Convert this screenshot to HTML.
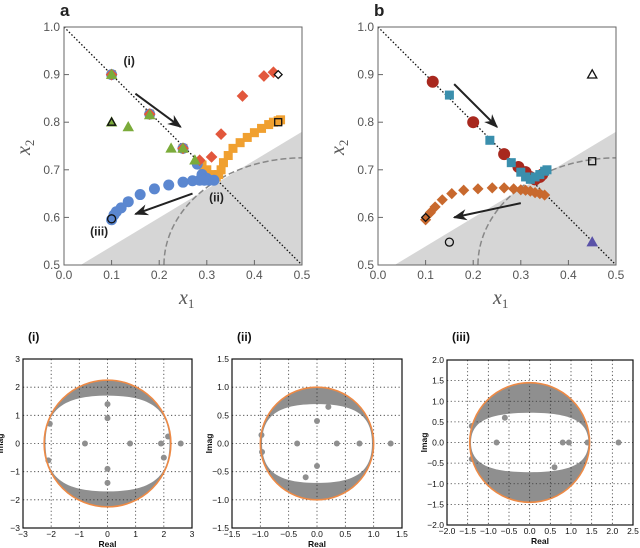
<!DOCTYPE html>
<html><head><meta charset="utf-8"><style>
body{margin:0;background:#fff}
svg{display:block;font-family:"Liberation Sans",sans-serif}
</style></head><body>
<svg id="s" width="640" height="548" viewBox="0 0 640 548">
<defs>
<marker id="ah" viewBox="0 0 10 10" refX="9" refY="5" markerWidth="7" markerHeight="7" orient="auto"><path d="M0,1 L10,5 L0,9 L3,5 z" fill="#222"/></marker>
<clipPath id="ca"><rect x="64" y="27" width="238" height="238"/></clipPath>
<clipPath id="cb"><rect x="378" y="27" width="238" height="238"/></clipPath>
</defs>
</svg>
<script>
// ---------- data ----------
const aBlue=[[0.1,0.9],[0.18,0.817],[0.25,0.745],[0.28,0.712],[0.29,0.69],[0.3,0.682],[0.1,0.595],[0.105,0.605],[0.11,0.612],[0.12,0.62],[0.135,0.633],[0.16,0.648],[0.19,0.66],[0.22,0.668],[0.25,0.674],[0.27,0.677],[0.285,0.678],[0.295,0.678],[0.305,0.678],[0.315,0.678]];
const aOrange=[[0.1,0.9],[0.18,0.817],[0.25,0.745],[0.29,0.71],[0.3,0.7],[0.31,0.69],[0.32,0.685],[0.325,0.69],[0.33,0.7],[0.335,0.715],[0.345,0.73],[0.355,0.745],[0.37,0.757],[0.385,0.768],[0.4,0.778],[0.415,0.787],[0.43,0.795],[0.44,0.8],[0.45,0.803],[0.455,0.805]];
const aRed=[[0.1,0.9],[0.18,0.817],[0.25,0.745],[0.285,0.72],[0.31,0.727],[0.33,0.775],[0.375,0.855],[0.42,0.897],[0.44,0.905]];
const aGreen=[[0.1,0.9],[0.1,0.8],[0.135,0.79],[0.18,0.815],[0.225,0.745],[0.25,0.745],[0.275,0.72]];
const bRed=[[0.115,0.885],[0.2,0.8],[0.265,0.733],[0.295,0.706],[0.31,0.695],[0.32,0.685],[0.33,0.68],[0.34,0.685],[0.345,0.69]];
const bTeal=[[0.15,0.857],[0.235,0.762],[0.28,0.715],[0.3,0.695],[0.31,0.685],[0.32,0.68],[0.33,0.685],[0.34,0.69],[0.35,0.697],[0.355,0.7]];
const bBrown=[[0.1,0.595],[0.11,0.61],[0.12,0.622],[0.135,0.637],[0.155,0.65],[0.18,0.657],[0.21,0.66],[0.24,0.662],[0.265,0.662],[0.285,0.66],[0.3,0.658],[0.31,0.657],[0.32,0.655],[0.33,0.652],[0.34,0.65],[0.35,0.647]];
const topTicksX=[0.0,0.1,0.2,0.3,0.4,0.5];
const topTicksY=[0.5,0.6,0.7,0.8,0.9,1.0];
const eigI={r:2.25,irx:2.2,iry:1.7,pts:[[-0.8,0],[0.8,0],[1.9,0],[2.6,0],[0,0.9],[0,1.4],[0,-0.9],[0,-1.4],[2.15,0.25],[-2.1,-0.6],[-2.05,0.7],[2.0,-0.5]]};
const eigII={r:1.0,irx:0.97,iry:0.7,pts:[[-0.35,0],[0.35,0],[0.75,0],[1.3,0],[0,0.4],[0,-0.4],[-0.98,0.15],[-0.97,-0.15],[0.2,0.65],[-0.2,-0.6]]};
const eigIII={r:1.45,irx:1.42,iry:0.72,pts:[[-0.8,0],[0.8,0],[0.95,0],[1.4,0],[2.15,0],[0.6,-0.6],[-0.6,0.6],[-1.4,0.4],[-1.4,-0.4]]};

const S=document.getElementById('s');const NS='http://www.w3.org/2000/svg';
function E(t,a,p){const e=document.createElementNS(NS,t);for(const k in a)e.setAttribute(k,a[k]);(p||S).appendChild(e);return e;}
function T(x,y,s,a,p){const e=E('text',Object.assign({x:x,y:y},a),p);e.textContent=s;return e;}

function topPanel(x0,letter,cid){
  const X=v=>x0+v*476, Y=v=>265-(v-0.5)*476;
  const g=E('g',{});
  
  
  T(x0-4,16,letter,{'font-size':17,'font-weight':'bold',fill:'#222'},g);
  const cg=E('g',{'clip-path':'url(#'+cid+')'},g);
  const sh=E('polygon',{points:`${X(0.035)},${Y(0.5)} ${X(0.5)},${Y(0.78)} ${X(0.5)},${Y(0.5)}`,fill:'#d6d6d6'},cg);
  
  
  const arc=E('ellipse',{cx:X(0.5),cy:Y(0.5),rx:0.29*476,ry:0.225*476,fill:'none',stroke:'#888','stroke-width':1.5,'stroke-dasharray':'6,3'},cg);
  
  
  const dl=E('line',{x1:X(0),y1:Y(1),x2:X(0.5),y2:Y(0.5),stroke:'#111','stroke-width':1.3,'stroke-dasharray':'1.5,2'},cg);
  
  
  const fr=E('rect',{x:x0,y:27,width:238,height:238,fill:'none',stroke:'#666','stroke-width':1},g);
  
  
  topTicksX.forEach(v=>{E('line',{x1:X(v),y1:265,x2:X(v),y2:260,stroke:'#666'},g);
    const t=T(X(v),279,v.toFixed(1),{'font-size':12,'text-anchor':'middle',fill:'#555'},g);
    });
  topTicksY.forEach(v=>{E('line',{x1:x0,y1:Y(v),x2:x0+5,y2:Y(v),stroke:'#666'},g);
    const t=T(x0-4,Y(v)+4,v.toFixed(1),{'font-size':12,'text-anchor':'end',fill:'#555'},g);
    });
  const xl=T(x0+115,304,'x',{'font-size':20,'font-style':'italic','font-family':'Liberation Serif,serif',fill:'#555'},g);
  E('tspan',{dy:4,'font-size':13,'font-style':'normal'},xl).textContent='1';
  
  const yl=T(0,0,'x',{'font-size':20,'font-style':'italic','font-family':'Liberation Serif,serif',fill:'#555',transform:`translate(${x0-34},${155}) rotate(-90)`},g);
  E('tspan',{dy:4,'font-size':13,'font-style':'normal'},yl).textContent='2';
  
  return {g,cg,X,Y};
}
function mark(p,shape,x,y,size,fill,stroke,name){
  let e;
  if(shape==='c')e=E('circle',{cx:x,cy:y,r:size,fill:fill,stroke:stroke||'none','stroke-width':1.3},p);
  else if(shape==='s')e=E('rect',{x:x-size,y:y-size,width:2*size,height:2*size,fill:fill,stroke:stroke||'none','stroke-width':1.3},p);
  else if(shape==='d')e=E('polygon',{points:`${x},${y-size*1.3} ${x+size*1.3},${y} ${x},${y+size*1.3} ${x-size*1.3},${y}`,fill:fill,stroke:stroke||'none','stroke-width':1.3},p);
  else e=E('polygon',{points:`${x},${y-size*1.2} ${x+size*1.15},${y+size*0.85} ${x-size*1.15},${y+size*0.85}`,fill:fill,stroke:stroke||'none','stroke-width':1.3},p);
  
  
}
function series(P,arr,shape,size,col,name){arr.forEach(d=>mark(P.cg,shape,P.X(d[0]),P.Y(d[1]),size,col,null,name));}
function arrow(P,a,b,c,d){const l=E('line',{x1:P.X(a),y1:P.Y(b),x2:P.X(c),y2:P.Y(d),stroke:'#222','stroke-width':2,'marker-end':'url(#ah)'},P.g);
  }
function lab(P,x,y,s){const t=T(P.X(x),P.Y(y),s,{'font-size':12,'font-weight':'bold',fill:'#222'},P.g);
  }

const A=topPanel(64,'a','ca');
series(A,aOrange,'s',4.5,'#f0a030','orange-square');
series(A,aBlue,'c',5.5,'#5b87d0','blue-circle');
series(A,aRed,'d',4.5,'#e2573c','red-diamond');
series(A,aGreen,'t',5,'#7bab3a','green-triangle');
mark(A.cg,'d',A.X(0.45),A.Y(0.9),3,'#fff','#111','open-diamond');
mark(A.cg,'s',A.X(0.45),A.Y(0.8),3.5,'none','#111','open-square');
mark(A.cg,'t',A.X(0.1),A.Y(0.8),3.5,'none','#111','open-triangle');
mark(A.cg,'c',A.X(0.1),A.Y(0.597),4,'none','#111','open-circle');
arrow(A,0.15,0.86,0.245,0.79);arrow(A,0.27,0.65,0.15,0.607);
lab(A,0.125,0.92,'(i)');lab(A,0.305,0.633,'(ii)');lab(A,0.055,0.562,'(iii)');

const B=topPanel(378,'b','cb');
series(B,bBrown,'d',4.3,'#c8692e','brown-diamond');
series(B,bRed,'c',6,'#a8281e','red-circle');
series(B,bTeal,'s',4.5,'#3a8fad','teal-square');
mark(B.cg,'t',B.X(0.45),B.Y(0.9),4,'none','#111','open-triangle');
mark(B.cg,'s',B.X(0.45),B.Y(0.718),3.5,'none','#111','open-square');
mark(B.cg,'d',B.X(0.1),B.Y(0.6),3,'none','#111','open-diamond');
mark(B.cg,'c',B.X(0.15),B.Y(0.548),4,'none','#111','open-circle');
mark(B.cg,'t',B.X(0.45),B.Y(0.548),5,'#5a52a8',null,'blue-triangle');
arrow(B,0.16,0.88,0.25,0.79);arrow(B,0.3,0.63,0.16,0.6);

function eig(x0,x1,y0,y1,xmin,xmax,ymin,ymax,xt,yt,label,d,name){
  const X=v=>x0+(v-xmin)/(xmax-xmin)*(x1-x0), Y=v=>y1-(v-ymin)/(ymax-ymin)*(y1-y0);
  const g=E('g',{});
  
  T(x0+5,341,label,{'font-size':12,'font-weight':'bold',fill:'#111'},g);
  const cx=X(0),cy=Y(0),rx=X(d.r)-cx,ry=cy-Y(d.r),irx=X(d.irx)-cx,iry=cy-Y(d.iry);
  const band=E('ellipse',{cx:cx,cy:cy,rx:rx,ry:ry,fill:'#8f8f8f'},g);
  
  const k=0.7,m=0.72;
  const inner=`M${cx-irx},${cy}C${cx-irx},${cy-iry*k} ${cx-irx*m},${cy-iry} ${cx},${cy-iry}C${cx+irx*m},${cy-iry} ${cx+irx},${cy-iry*k} ${cx+irx},${cy}C${cx+irx},${cy+iry*k} ${cx+irx*m},${cy+iry} ${cx},${cy+iry}C${cx-irx*m},${cy+iry} ${cx-irx},${cy+iry*k} ${cx-irx},${cy}z`;
  const hole=E('path',{d:inner,fill:'#fff'},g);
  
  xt.forEach(v=>{E('line',{x1:X(v),y1:y0,x2:X(v),y2:y1,stroke:'#333','stroke-width':0.8,'stroke-dasharray':'1.2,2.5'},g);
    const t=T(X(v),y1+9,(v<0?'\u2212':'')+Math.abs(v).toFixed(xt.fmt),{'font-size':8.5,'text-anchor':'middle',fill:'#111'},g);
    });
  yt.forEach(v=>{E('line',{x1:x0,y1:Y(v),x2:x1,y2:Y(v),stroke:'#333','stroke-width':0.8,'stroke-dasharray':'1.2,2.5'},g);
    const t=T(x0-3,Y(v)+3,(v<0?'\u2212':'')+Math.abs(v).toFixed(yt.fmt),{'font-size':8.5,'text-anchor':'end',fill:'#111'},g);
    });
  d.pts.forEach(p=>{const c=E('circle',{cx:X(p[0]),cy:Y(p[1]),r:3,fill:'#8f8f8f'},g);
    });
  const ci=E('ellipse',{cx:cx,cy:cy,rx:rx,ry:ry,fill:'none',stroke:'#ee8a45','stroke-width':1.6},g);
  
  E('rect',{x:x0,y:y0,width:x1-x0,height:y1-y0,fill:'none',stroke:'#111','stroke-width':1.2},g);
  const xl=T((x0+x1)/2,y1+19,'Real',{'font-size':8.5,'font-weight':'bold','text-anchor':'middle',fill:'#111'},g);
  
  const yl=T(0,0,'Imag',{'font-size':8.5,'font-weight':'bold','text-anchor':'middle',fill:'#111',transform:`translate(${x0-20},${(y0+y1)/2}) rotate(-90)`},g);
  
}
const t1=[-3,-2,-1,0,1,2,3];t1.fmt=0;
const t2=[-1.5,-1,-0.5,0,0.5,1,1.5];t2.fmt=1;
const t3x=[-2,-1.5,-1,-0.5,0,0.5,1,1.5,2,2.5];t3x.fmt=1;
const t3y=[-2,-1.5,-1,-0.5,0,0.5,1,1.5,2];t3y.fmt=1;
eig(23,192,359,528,-3,3,-3,3,t1,t1,'(i)',eigI,'eigen-panel-i');
eig(232,402,359,528,-1.5,1.5,-1.5,1.5,t2,t2,'(ii)',eigII,'eigen-panel-ii');
eig(447,633,360,525,-2,2.5,-2,2,t3x,t3y,'(iii)',eigIII,'eigen-panel-iii');
</script>
</body></html>
